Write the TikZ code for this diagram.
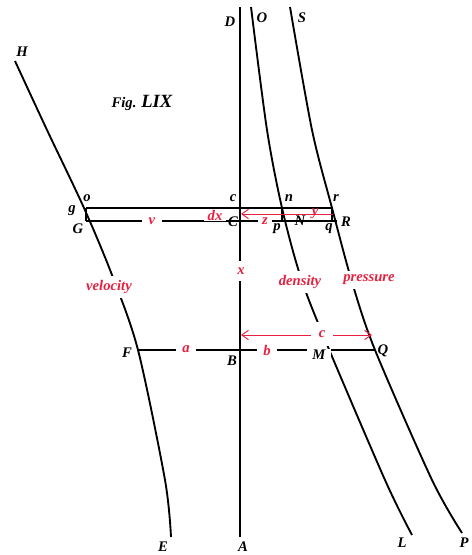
\documentclass[tikz,border=0pt]{standalone}
\usepackage{fontspec}
\setmainfont{Liberation Serif}
\usetikzlibrary{positioning,arrows.meta}
\definecolor{figred}{RGB}{232,32,64}

\begin{document}
\begin{tikzpicture}[x=0.75pt, y=-0.75pt, line width=1.4pt,
    font=\fontsize{11}{13}\selectfont\bfseries\itshape, >={Straight Barb[length=5pt,width=7pt]},
    lbl/.style={inner sep=1pt},
    rlbl/.style={text=figred, fill=white, inner sep=1pt},
    dim/.style={figred, line width=0.7pt}]
  \useasboundingbox (0,0) rectangle (471,555);
  % points
  \coordinate (A) at (240,537); \coordinate (D) at (240,7);
  \coordinate (H) at (15,61);   \coordinate (E) at (171,537);
  \coordinate (O) at (251,7);   \coordinate (L) at (412,535);
  \coordinate (S) at (290,7);   \coordinate (P) at (462,533);
  \coordinate (o) at (86,208);  \coordinate (r) at (332,208);
  \coordinate (G) at (86,221);  \coordinate (R) at (337,221);
  \coordinate (n) at (282,208); \coordinate (p) at (282,221);
  \coordinate (q) at (332,221);
  \coordinate (F) at (138,350); \coordinate (Q) at (375,350);
  \coordinate (dxa) at (333,214); \coordinate (dxb) at (241,214);
  \coordinate (ca) at (241,335);  \coordinate (cb) at (372,335);
  % axis and curves
  \draw (A) -- (D);
  \draw plot[smooth] coordinates {(H) (47,130) (84,208) (112,275) (138,350) (165,480) (E)};
  \draw plot[smooth] coordinates {(O) (267,130) (282,208) (300,275) (323,335) (385,480) (L)};
  \draw plot[smooth] coordinates {(S) (312,130) (332,208) (352,282) (375,350) (432,480) (P)};
  % ordinates
  \draw (o) -- (r);
  \draw (G) -- (R);
  \draw (o) -- (G);
  \draw (n) -- (p);
  \draw (r) -- (q);
  \draw (F) -- (Q);
  \draw[dim, ->] (dxa) -- (dxb);
  \draw[dim, <->] (ca) -- (cb);
  % letters
  \foreach \n/\x/\y in {H/22/52, D/230/22, O/262/18, S/302/18, o/87/198, c/233/198, n/289/198,
      r/336/198, g/72/211, G/78/229, C/233/222, p/277/229, q/329/229, R/346/222, N/300/221,
      F/127/353, B/232/361, Q/383/351, E/163/547, A/243/547, L/402/543, P/464/543}
    \node[lbl] (l\n) at (\x,\y) {\n};
  \node[lbl, fill=white, inner xsep=4pt] (lM) at (319,355) {M};
  \node[lbl] (fig) at (142,103) {\fontsize{11}{13}\selectfont Fig. \fontsize{14}{16}\selectfont LIX};
  \node[rlbl, inner xsep=5pt] (lv) at (152,221) {v};
  \node[rlbl, inner xsep=3pt] (ldx) at (215,215) {dx};
  \node[rlbl, inner xsep=3pt] (lz) at (265,221) {z};
  \node[lbl, text=figred] (ly) at (315,214) {y};
  \node[rlbl, inner ysep=5pt] (lx) at (241,271) {x};
  \node[rlbl, inner sep=3pt] (lvel) at (109,287) {velocity};
  \node[rlbl, inner sep=3pt] (lden) at (300,282) {density};
  \node[rlbl, inner sep=3pt] (lpre) at (369,280) {pressure};
  \node[rlbl, inner sep=6pt] (lcc) at (322,334) {c};
  \node[rlbl, inner xsep=5pt] (la) at (186,349) {a};
  \node[rlbl, inner xsep=5pt] (lb) at (267,350) {b};
\end{tikzpicture}
\end{document}
